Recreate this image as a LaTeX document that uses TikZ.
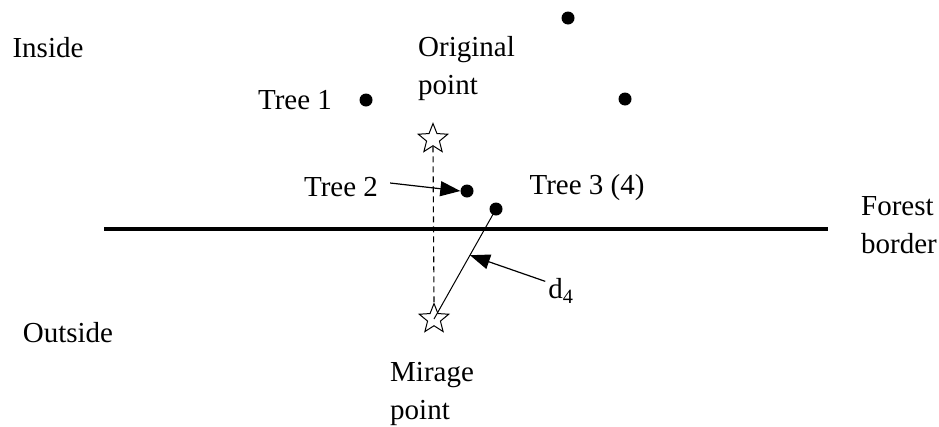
\documentclass[tikz,border=0pt]{standalone}
\usepackage{fontspec}
\setmainfont{Liberation Serif}
\usetikzlibrary{arrows.meta,shapes.geometric,calc}
\begin{document}
\begin{tikzpicture}[x=1pt,y=-1pt,
  lbl/.style={font=\fontsize{29}{35}\selectfont, inner sep=0pt},
  tree/.style={circle,fill=black,minimum size=13pt,inner sep=0pt},
  pstar/.style={star,star points=5,star point ratio=2.3,draw=black,line width=1pt,fill=white,minimum size=31pt,inner sep=0pt},
  ptr/.style={line width=1.2pt,-{Triangle[length=20pt,width=15pt]}}]
\useasboundingbox (0,0) rectangle (939,426);
% border
\coordinate (b1) at (104,229);
\coordinate (b2) at (828,229);
\draw[line width=4pt] (b1) -- (b2);
% labels
\node[lbl] (inside) at (48,48) {Inside};
\node[lbl] (outside) at (68,333) {Outside};
\node[lbl,align=left,anchor=west] (orig) at (418,69) {Original\\[3pt]point};
\node[lbl,align=left,anchor=west] (mir) at (390,394) {Mirage\\[3pt]point};
\node[lbl,align=left,anchor=west] (forest) at (861,225) {Forest\\[3pt]border};
\node[lbl] (t1) at (295,100) {Tree 1};
\node[lbl] (t2) at (341,187) {Tree 2};
\node[lbl] (t3) at (587,188) {Tree 3 (4)};
\node[lbl] (d4) at (561,291) {d\textsubscript{4}};
% trees
\node[tree] (p0) at (568,18) {};
\node[tree] (p1) at (625,99) {};
\node[tree] (tr1) at (366,100) {};
\node[tree] (tr2) at (467,191) {};
\node[tree] (tr3) at (496,209) {};
% stars
\node[pstar] (so) at (433,139) {};
\node[pstar] (sm) at (434,319) {};
% lines
\draw[line width=1.1pt,dash pattern=on 6pt off 4pt] (so.south) -- (sm.north);
\draw[line width=1pt] (tr3.center) -- (sm.center);
\coordinate (a2) at ($(t2.east)+(12,-4)$);
\draw[ptr] (a2) -- (tr2.west);
\coordinate (m) at ($(tr3.center)!0.42!(sm.center)$);
\coordinate (a4) at ($(d4.north west)+(-3,3)$);
\draw[ptr] (a4) -- (m);
\end{tikzpicture}
\end{document}
